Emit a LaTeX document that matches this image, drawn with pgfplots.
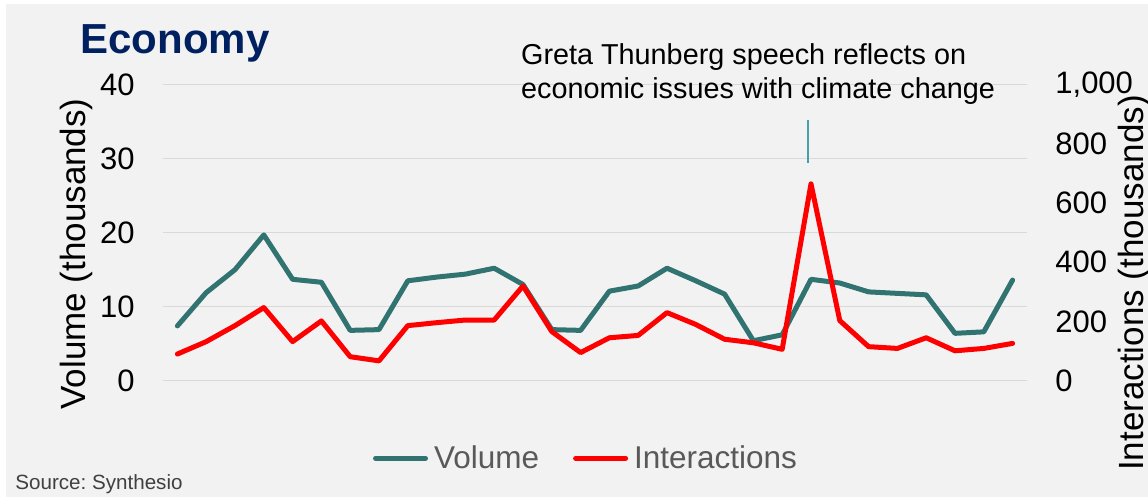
\documentclass[border=0pt]{standalone}
\usepackage{pgfplots}
\pgfplotsset{compat=1.18}
\usepackage{fontspec}
\setmainfont{Liberation Sans}
\frenchspacing
\definecolor{bg}{HTML}{F2F2F2}
\definecolor{gridc}{HTML}{D9D9D9}
\definecolor{vol}{RGB}{49,115,112}
\definecolor{navy}{HTML}{002060}
\definecolor{ann}{RGB}{70,160,165}
\definecolor{legtext}{HTML}{595959}
\definecolor{src}{HTML}{404040}

\pgfplotstableread{
idx vol
0 7.4
1 11.9
2 15.0
3 19.7
4 13.7
5 13.3
6 6.8
7 6.9
8 13.5
9 14.0
10 14.4
11 15.2
12 13.0
13 6.9
14 6.8
15 12.1
16 12.8
17 15.2
18 13.5
19 11.7
20 5.4
21 6.2
22 13.7
23 13.2
24 12.0
25 11.8
26 11.6
27 6.4
28 6.6
29 13.6
}\voltable

\pgfplotstableread{
idx inter
0 90
1 132
2 186
3 247
4 132
5 202
6 81
7 67
8 186
9 196
10 205
11 205
12 320
13 166
14 95
15 145
16 153
17 230
18 190
19 140
20 128
21 106
22 665
23 203
24 115
25 109
26 145
27 101
28 109
29 126
}\intertable

\begin{document}
\begin{tikzpicture}[x=0.5pt,y=0.5pt]
\useasboundingbox (0,0) rectangle (1148,497);
\clip (0,0) rectangle (1148,497);
\fill[white] (0,0) rectangle (1148,497);
\fill[bg] (6,0) rectangle (1148,493);

\begin{axis}[
  at={(81.5pt,58.15pt)}, anchor=south west,
  scale only axis, width=432pt, height=148pt,
  xmin=-0.5, xmax=29.5, ymin=0, ymax=40,
  axis line style={draw=none},
  major tick length=0pt,
  xtick=\empty,
  ytick={0,10,20,30,40},
  ymajorgrids, grid style={gridc, line width=0.8pt},
  /pgf/number format/assume math mode=true,
  yticklabel style={font=\fontsize{15.5}{18}\selectfont, inner sep=0pt, xshift=-14pt, anchor=east},
  clip=false,
]
\addplot[vol, line width=2.5pt, line join=round, line cap=round] table[x=idx, y=vol] {\voltable};
\end{axis}

\begin{axis}[
  at={(81.5pt,58.15pt)}, anchor=south west,
  scale only axis, width=432pt, height=148pt,
  xmin=-0.5, xmax=29.5, ymin=0, ymax=1000,
  axis line style={draw=none},
  axis y line*=right,
  axis x line=none,
  major tick length=0pt,
  xtick=\empty,
  ytick={0,200,400,600,800,1000},
  /pgf/number format/assume math mode=true,
  /pgf/number format/1000 sep={,},
  yticklabel style={font=\fontsize{15.5}{18}\selectfont, inner sep=0pt, xshift=14pt, anchor=west},
  clip=false,
  legend columns=2,
  legend style={at={(axis description cs:0.2431,-0.2622)}, anchor=west, draw=none, fill=none,
    inner sep=0pt, outer sep=0pt,
    nodes={inner sep=0pt},
    font=\fontsize{15.75}{18}\selectfont, text=legtext,
    /tikz/every odd column/.append style={column sep=3pt},
    /tikz/every even column/.append style={column sep=17pt}},
  legend image code/.code={\draw[#1, line cap=round] (1.25pt,0pt) -- (26.25pt,0pt);},
]
\addlegendimage{vol, line width=2.5pt}
\addlegendentry{Volume}
\addplot[red, line width=2.5pt, line join=round, line cap=round] table[x=idx, y=inter] {\intertable};
\addlegendentry{Interactions}
\end{axis}

\node[anchor=base west, inner sep=0pt, font=\bfseries\fontsize{21}{25}\selectfont, text=navy] at (80,443.7) {Economy};
\node[anchor=base west, inner sep=0pt, font=\fontsize{14.4}{17}\selectfont] at (520.7,432.7) {Greta Thunberg speech reflects on};
\node[anchor=base west, inner sep=0pt, font=\fontsize{14.4}{17}\selectfont] at (520.7,398.7) {economic issues with climate change};
\draw[ann, line width=1pt] (808.3,334.3) -- (808.3,377);
\node[rotate=90, anchor=base, inner sep=0pt, font=\fontsize{17.5}{20}\selectfont] at (85,243) {Volume (thousands)};
\node[rotate=90, anchor=base, inner sep=0pt, font=\fontsize{17.5}{20}\selectfont] at (1143,214) {Interactions (thousands)};
\node[anchor=base west, inner sep=0pt, font=\fontsize{10.3}{12}\selectfont, text=src] at (15,7) {Source: Synthesio};
\end{tikzpicture}
\end{document}
